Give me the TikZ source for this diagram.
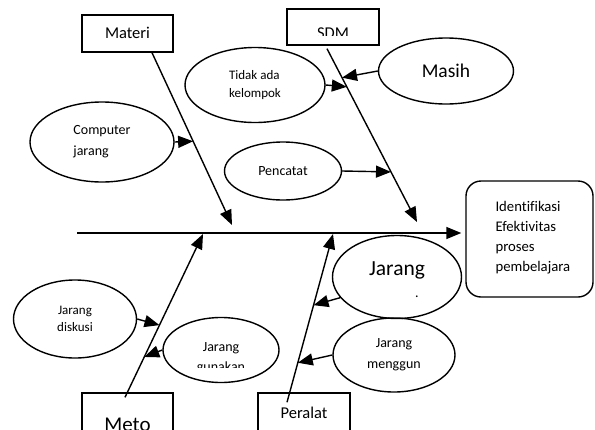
\documentclass[tikz,border=0pt]{standalone}
\usepackage{fontspec}
\setmainfont{Carlito}[Ligatures=NoCommon]
\usetikzlibrary{arrows.meta, positioning, shapes.geometric}

\tikzset{
  catbox/.style={draw, line width=1.4pt, minimum width=91pt, minimum height=37pt, inner sep=0pt, font=\fontsize{16.5}{19}\selectfont},
  cause/.style={draw, ellipse, line width=1.4pt, inner sep=0pt, font=\fontsize{14}{21}\selectfont},
  smallcause/.style={cause, font=\fontsize{13}{18}\selectfont},
  bone/.style={line width=1.4pt, ->},
  panah/.style={line width=1.4pt, ->},
}

\begin{document}
\begin{tikzpicture}[x=1pt, y=-1pt, >={Triangle[length=15pt,width=12pt]}, every node/.style={align=center}]
\clip (0,0) rectangle (595,429);

% kepala ikan
\node[draw, line width=1.4pt, rounded corners=15pt, minimum width=127pt, minimum height=116pt] (tujuan) at (529.5,239) {};
\node[anchor=base west, align=left, font=\fontsize{14.7}{20}\selectfont] (tujuan-t) at (492,271) {Identifikasi\\Efektivitas\\proses\\pembelajara};

% tulang utama
\coordinate (ekor) at (77,233);
\draw[bone, shorten >=4pt] (ekor) -- (ekor -| tujuan.west);

% kategori
\node[catbox, text depth=1pt] (materi) at (127.5,33.5) {Materi};
\node[catbox, minimum width=92pt, minimum height=36pt] (sdm) at (333,27) {};
\begin{scope}
  \clip (287,9) rectangle (379,35);
  \node[anchor=base, font=\fontsize{16.5}{19}\selectfont] (sdm-t) at (333,38) {SDM};
\end{scope}
\node[catbox, minimum height=52pt] (metode) at (127.5,419) {};
\node[anchor=base, font=\fontsize{21}{25}\selectfont] (metode-t) at (127.5,431) {Meto};
\node[catbox, minimum width=92pt, minimum height=52pt] (peralat) at (304,419) {};
\node[anchor=base, font=\fontsize{16.5}{19}\selectfont] (peralat-t) at (304,418) {Peralat};

% tulang cabang
\coordinate (materi-ujung) at (232,225);
\coordinate (sdm-ujung) at (417,222);
\coordinate (metode-ujung) at (203,234);
\coordinate (peralat-ujung) at (333,234);
\draw[bone] ([xshift=24.5pt]materi.south) -- coordinate[pos=0.514] (mat1) (materi-ujung);
\draw[bone] ([xshift=-6pt,yshift=-3pt]sdm.south) -- coordinate[pos=0.167] (sdm1) coordinate[pos=0.22] (sdm2) coordinate[pos=0.711] (sdm3) (sdm-ujung);
\draw[bone] ([xshift=-2.5pt,yshift=-5pt]metode.north) -- coordinate[pos=0.442] (met1) coordinate[pos=0.247] (met2) (metode-ujung);
\draw[bone] ([xshift=-17pt,yshift=-10pt]peralat.north) -- coordinate[pos=0.577] (per1) coordinate[pos=0.235] (per2) (peralat-ujung);

% penyebab
\node[cause, align=left, minimum width=144pt, minimum height=80pt] (komputer) at (102,142) {Computer\\jarang};
\node[smallcause, align=left, minimum width=140pt, minimum height=75pt] (kelompok) at (255,85) {Tidak ada\\kelompok};
\node[cause, font=\fontsize{19.5}{22}\selectfont, minimum width=135pt, minimum height=66pt] (masih) at (446,71) {Masih};
\node[cause, minimum width=117pt, minimum height=58pt] (pencatat) at (283,171) {Pencatat};
\node[smallcause, font=\fontsize{13}{17}\selectfont, minimum width=123pt, minimum height=78pt] (diskusi) at (75,319) {Jarang\\diskusi};
\node[cause, minimum width=116pt, minimum height=65pt] (gunakan) at (221,350) {};
\begin{scope}
  \clip (163,318) rectangle (279,367);
  \node[anchor=base, font=\fontsize{14}{20}\selectfont] (gunakan-t) at (221,371) {gunakan};
\end{scope}
\node[anchor=base, font=\fontsize{14}{20}\selectfont] (gunakan-j) at (221,351) {Jarang};
\node[cause, minimum width=129pt, minimum height=83pt] (jarang) at (397,277) {};
\node[anchor=base, font=\fontsize{21.5}{24}\selectfont] (jarang-t) at (397,275) {Jarang};
\node[anchor=base, font=\fontsize{14}{20}\selectfont] (jarang-d) at (417,297) {.};
\node[cause, minimum width=122pt, minimum height=74pt] (menggun) at (394,355) {Jarang\\menggun};

% panah penyebab
\draw[panah] (komputer.east) -- (mat1);
\draw[panah] (masih.west) -- (sdm1);
\draw[panah] (kelompok.east) -- (sdm2);
\draw[panah] (pencatat.east) -- (sdm3);
\draw[panah] (diskusi.east) -- (met1);
\draw[panah] (gunakan.west) -- (met2);
\draw[panah] (jarang.200) -- (per1);
\draw[panah] (menggun.west) -- (per2);
\end{tikzpicture}
\end{document}
